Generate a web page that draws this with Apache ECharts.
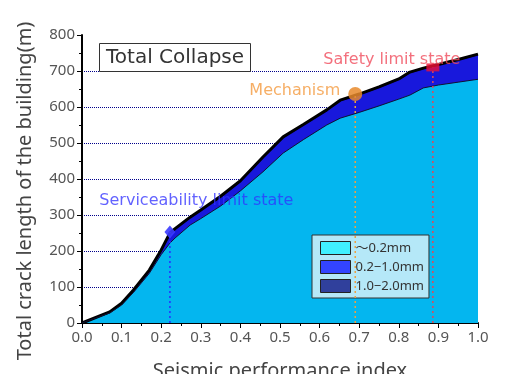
<!DOCTYPE html>
<html>
<head>
<meta charset="utf-8">
<script src="https://cdn.jsdelivr.net/npm/echarts@6/dist/echarts.min.js"></script>
<style>
  html, body { margin: 0; padding: 0; background: #fff; }
  #chart { width: 508px; height: 374px; }
</style>
</head>
<body>
<div id="chart"></div>
<script>
// Seismic performance index (x) and crack length per crack-width class (m)
const perfIndex = [0, 0.07, 0.1, 0.13, 0.17, 0.2, 0.222, 0.235, 0.273, 0.3, 0.35, 0.4, 0.457, 0.508, 0.56, 0.618, 0.652, 0.7, 0.75, 0.8, 0.828, 0.862, 0.9, 0.95, 1.0];
const crackFine   = [0, 28, 50, 85, 138, 190, 222, 236, 272, 290, 325, 367, 420, 472, 510, 550, 569, 585, 603, 622, 633, 653, 661, 669, 677];
const crackMedium = [0, 1, 3, 5, 6, 10, 25, 23, 19, 21, 24, 25, 38, 42, 39, 39, 47, 48, 50, 53, 61, 52, 54, 60, 67];
const crackWide   = [0, 2, 2, 2, 3, 3, 3, 3, 3, 3, 3, 3, 3, 3, 3, 3, 3, 3, 3, 3, 3, 3, 3, 3, 3];

const seriesNames = ['～0.2mm', '0.2−1.0mm', '1.0−2.0mm'];
const legendColors = ['#40f0ff', '#3344ff', '#30409c'];

// Limit states: [performance index, total crack length]
const serviceability = [0.222, 253];
const mechanism = [0.69, 636];
const safetyLimit = [0.886, 710];

const font = '"Noto Sans", "Noto Sans CJK JP", sans-serif';
const wideFont = '"DejaVu Sans", "Noto Sans", sans-serif';

// Running totals so each band sits on the ones below it
const upToMedium = crackFine.map((v, i) => v + crackMedium[i]);
const upToWide = upToMedium.map((v, i) => v + crackWide[i]);
const pair = (xs, ys) => xs.map((x, i) => [x, ys[i]]);

const chart = echarts.init(document.getElementById('chart'));

function vline(pt, color) {
  return {
    type: 'line', data: [[pt[0], 0], pt], symbol: 'none', silent: true, z: 5,
    lineStyle: { color: color, width: 1.5, type: [2, 3] }
  };
}

// Grid lines at 100..700 only; none at the top edge
const gridColors = ['#00008b', '#00008b', '#00008b', '#00008b', '#00008b', '#00008b', '#00008b', '#00008b', 'rgba(0,0,0,0)'];

chart.setOption({
  animation: false,
  textStyle: { fontFamily: font },
  grid: { left: 82, right: 30, top: 35, bottom: 51, containLabel: false, outerBoundsMode: 'none' },
  title: {
    text: 'Total Collapse',
    left: 99, top: 43,
    padding: [5, 7, 4, 7],
    borderColor: '#333', borderWidth: 1,
    backgroundColor: 'rgba(255,255,255,0.85)',
    textStyle: { fontFamily: wideFont, fontSize: 20, fontWeight: 'normal', color: '#333' }
  },
  legend: {
    left: 312, top: 235, orient: 'vertical',
    padding: [6, 5, 5, 8],
    itemWidth: 30, itemHeight: 13, itemGap: 5,
    backgroundColor: '#b5e8f8', borderColor: '#333', borderWidth: 1,
    textStyle: { fontFamily: font, fontSize: 13, color: '#333' },
    data: seriesNames.map((n, i) => ({
      name: n, icon: 'rect',
      itemStyle: { color: legendColors[i], borderColor: '#222', borderWidth: 1 }
    }))
  },
  xAxis: {
    type: 'value', min: 0, max: 1, interval: 0.1,
    name: 'Seismic performance index', nameLocation: 'middle', nameGap: 38,
    nameTextStyle: { fontFamily: font, fontSize: 20, color: '#444' },
    axisLine: { lineStyle: { color: '#000', width: 2 } },
    axisTick: { length: 5, lineStyle: { color: '#000' } },
    minorTick: { show: true, splitNumber: 2, length: 3, lineStyle: { color: '#000' } },
    axisLabel: { fontSize: 15, color: '#555', margin: 7, formatter: v => v.toFixed(1) },
    splitLine: { show: false }
  },
  yAxis: {
    type: 'value', min: 0, max: 800, interval: 100,
    name: 'Total crack length of the building(m)', nameLocation: 'middle', nameGap: 47,
    nameTextStyle: { fontFamily: font, fontSize: 20, color: '#444', padding: [0, 24, 0, 0] },
    axisLine: { show: true, lineStyle: { color: '#000', width: 2 } },
    axisTick: { show: true, length: 5, lineStyle: { color: '#000' } },
    minorTick: { show: true, splitNumber: 2, length: 3, lineStyle: { color: '#000' } },
    axisLabel: { fontSize: 15, color: '#555', margin: 7 },
    splitLine: {
      show: true,
      lineStyle: { color: gridColors, width: 1, type: [1, 1] }
    }
  },
  series: [
    {
      name: seriesNames[2], type: 'line', data: pair(perfIndex, upToWide),
      symbol: 'none', z: 2,
      itemStyle: { color: legendColors[2] },
      lineStyle: { color: '#000', width: 3 },
      areaStyle: { color: '#0a0a30', opacity: 1 }
    },
    {
      name: seriesNames[1], type: 'line', data: pair(perfIndex, upToMedium),
      symbol: 'none', z: 2,
      itemStyle: { color: legendColors[1] },
      lineStyle: { width: 0 },
      areaStyle: { color: '#1818dc', opacity: 1 }
    },
    {
      name: seriesNames[0], type: 'line', data: pair(perfIndex, crackFine),
      symbol: 'none', z: 2,
      itemStyle: { color: legendColors[0] },
      lineStyle: { color: '#113', width: 1 },
      areaStyle: { color: '#04b6ef', opacity: 1 }
    },
    vline(serviceability, '#2a2aff'),
    vline(mechanism, '#f0a040'),
    vline(safetyLimit, '#e04858'),
    {
      type: 'scatter', data: [serviceability], symbol: 'diamond', symbolSize: [11, 13], z: 6,
      itemStyle: { color: '#3a3aff', opacity: 0.9 },
      label: {
        show: true, formatter: 'Serviceability limit state', position: 'left',
        offset: [134, -31], fontFamily: wideFont, fontSize: 16, color: 'rgba(50,50,255,0.85)'
      }
    },
    {
      type: 'scatter', data: [mechanism], symbol: 'circle', symbolSize: 14, z: 6,
      itemStyle: { color: '#e88a2c', opacity: 0.85 },
      label: {
        show: true, formatter: 'Mechanism', position: 'left',
        offset: [-3, -3], fontFamily: wideFont, fontSize: 16, color: '#f5a04a'
      }
    },
    {
      type: 'scatter', data: [safetyLimit], symbol: 'rect', symbolSize: [13, 8], z: 6,
      itemStyle: { color: '#f01035' },
      label: {
        show: true, formatter: 'Safety limit state', position: 'left',
        offset: [39, -8], fontFamily: wideFont, fontSize: 16, color: '#f04c5c'
      }
    }
  ]
});
</script>
</body>
</html>
